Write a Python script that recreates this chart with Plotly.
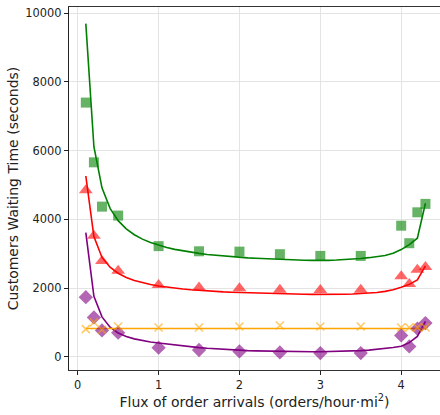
import plotly.graph_objects as go

# Measured waiting times at each order-arrival flux
flux = [0.1, 0.2, 0.3, 0.5, 1.0, 1.5, 2.0, 2.5, 3.0, 3.5, 4.0, 4.1, 4.2, 4.3]
wait_green = [7400, 5660, 4370, 4110, 3220, 3070, 3060, 2985, 2935, 2935, 3815, 3305, 4205, 4450]
wait_red = [4850, 3525, 2790, 2500, 2085, 2015, 1995, 1950, 1940, 1950, 2345, 2120, 2530, 2610]
wait_purple = [1735, 1145, 765, 700, 262, 195, 155, 125, 107, 107, 620, 300, 815, 980]
wait_orange = [805, 1005, 785, 880, 852, 852, 880, 910, 880, 880, 852, 852, 852, 852]

# Model curves on a 0.1 grid of flux
grid = [0.1, 0.2, 0.3, 0.4, 0.5, 0.6, 0.7, 0.8, 0.9, 1.0,
        1.1, 1.2, 1.3, 1.4, 1.5, 1.6, 1.7, 1.8, 1.9, 2.0,
        2.1, 2.2, 2.3, 2.4, 2.5, 2.6, 2.7, 2.8, 2.9, 3.0,
        3.1, 3.2, 3.3, 3.4, 3.5, 3.6, 3.7, 3.8, 3.9, 4.0,
        4.1, 4.2, 4.3]
model_green = [9700, 6113, 4918, 4321, 3962, 3723, 3552, 3424, 3325, 3245,
               3180, 3126, 3080, 3040, 3008, 2978, 2954, 2931, 2912, 2895,
               2879, 2866, 2853, 2842, 2832, 2823, 2816, 2809, 2804, 2800,
               2804, 2814, 2825, 2841, 2860, 2884, 2909, 2949, 3014, 3119,
               3265, 3451, 4467]
model_red = [5262, 3497, 2890, 2608, 2428, 2306, 2219, 2153, 2102, 2060,
             2026, 1997, 1973, 1951, 1932, 1916, 1902, 1889, 1879, 1870,
             1861, 1853, 1846, 1840, 1834, 1829, 1824, 1819, 1815, 1812,
             1811, 1813, 1819, 1826, 1836, 1848, 1868, 1903, 1951, 2023,
             2106, 2238, 2645]
model_purple = [3614, 1760, 1160, 860, 690, 590, 520, 465, 428, 398,
                368, 340, 315, 290, 265, 245, 228, 212, 198, 186,
                177, 170, 164, 159, 155, 152, 149, 147, 146, 146,
                148, 152, 158, 166, 177, 192, 212, 240, 270, 305,
                410, 590, 1026]
model_orange = [823] * len(grid)

x_ticks = [0, 1, 2, 3, 4]
y_ticks = [0, 2000, 4000, 6000, 8000, 10000]
y_tick_labels = ["0", "2000", "4000", "6000", "8000", "10000"]

series = [
    (wait_green, model_green, "green", "rgba(0,128,0,0.6)", "square", 10),
    (wait_red, model_red, "red", "rgba(255,0,0,0.6)", "triangle-up", 12),
    (wait_purple, model_purple, "purple", "rgba(128,0,128,0.6)", "diamond", 11),
    (wait_orange, model_orange, "orange", "rgba(255,165,0,0.6)", "x-thin", 8),
]

fig = go.Figure()
for pts, curve, line_col, mk_col, symbol, size in series:
    fig.add_trace(go.Scatter(
        x=grid, y=curve, mode="lines",
        line=dict(color=line_col, width=1.6), hoverinfo="skip"))
for pts, curve, line_col, mk_col, symbol, size in series:
    marker = dict(symbol=symbol, size=size, color=mk_col)
    if symbol == "x-thin":
        marker["line"] = dict(color=mk_col, width=1.6)
    else:
        marker["line"] = dict(width=0)
    fig.add_trace(go.Scatter(x=flux, y=pts, mode="markers", marker=marker))

font = dict(family="DejaVu Sans", size=11.4, color="#222")
fig.update_layout(
    width=440, height=415,
    margin=dict(l=69, r=0, t=7, b=45),
    paper_bgcolor="white", plot_bgcolor="white",
    showlegend=False, font=font,
)
fig.update_xaxes(
    range=[-0.108, 4.48], tickvals=x_ticks, ticks="outside", ticklen=4,
    tickcolor="#222", showline=True, linecolor="#333", linewidth=1.2, mirror=True,
    showgrid=True, gridcolor="#e3e3e3", gridwidth=1, zeroline=False,
    title=dict(text="Flux of order arrivals (orders/hour·mi<sup>2</sup>)", standoff=6),
)
fig.update_yaxes(
    range=[-387, 10183], tickvals=y_ticks, ticktext=y_tick_labels,
    ticks="outside", ticklen=4,
    tickcolor="#222", showline=True, linecolor="#222", linewidth=1.2,
    showgrid=True, gridcolor="#e3e3e3", gridwidth=1, zeroline=False,
    title=dict(text="Customers Waiting Time (seconds)", standoff=3),
)
fig.write_html("out.html")
